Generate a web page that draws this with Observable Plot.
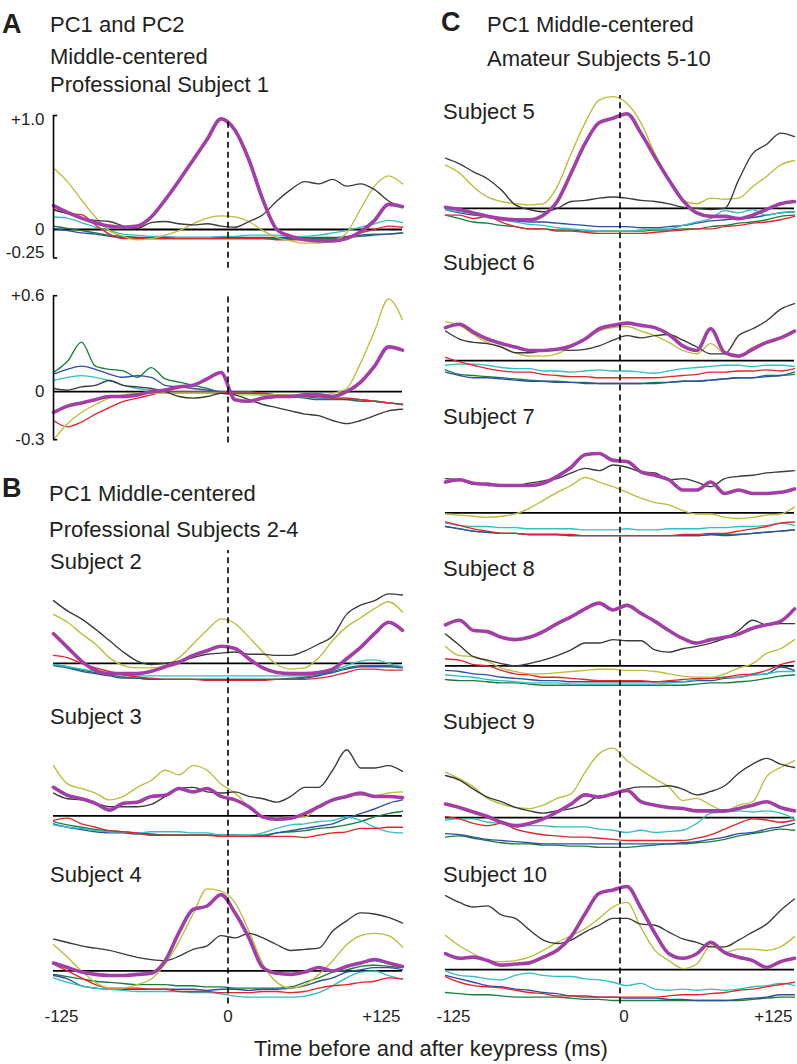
<!DOCTYPE html>
<html><head><meta charset="utf-8">
<script src="https://cdn.jsdelivr.net/npm/d3@7"></script>
<script src="https://cdn.jsdelivr.net/npm/@observablehq/plot@0.6"></script>
<style>
body{margin:0;background:#fff;}
#fig{position:relative;width:797px;height:1064px;overflow:hidden;font-family:"Liberation Sans",Arial,Helvetica,sans-serif;color:#231f20;background:#fff;}
.t{position:absolute;white-space:nowrap;}
.p{position:absolute;}
</style></head><body><div id="fig"></div>
<script>
// ---------- DATA (values x 0.01) ----------
const times = [-125,-115,-105,-95,-85,-75,-65,-55,-45,-35,-25,-15,-5,5,15,25,35,45,55,65,75,85,95,105,115,125];
const seriesOrder = ["green","blue","cyan","red","yellow","black","purple"];
const seriesColors = {green:"#16803c", blue:"#2f4ea6", cyan:"#2fbfc4", red:"#e3262b", yellow:"#bdbd3a", black:"#3a3a3a", purple:"#a23ea6"};

const subj1PC1 = {
  purple:[21,15,10,6,3,2,3,11,26,43,61,79,97,87,61,26,0,-6,-9,-10,-10,-8,-2,8,22,20],
  black:[17,14,10,8,7,3,1,6,7,5,4,5,3,2,7,13,25,35,42,40,44,38,40,35,25,20],
  yellow:[54,42,26,11,-1,-6,-9,-8,-5,-1,5,10,12,11,7,-1,-7,-10,-12,-12,-10,-3,18,38,47,40],
  cyan:[11,10,6,2,-1,-4,-5,-6,-6,-7,-7,-7,-6,-6,-5,-5,-5,-6,-6,-5,-3,-1,2,5,8,6],
  red:[18,14,13,4,-4,-8,-8,-8,-8,-8,-8,-8,-8,-8,-8,-8,-9,-9,-9,-9,-9,-7,-3,0,3,2],
  green:[3,1,-1,-3,-5,-6,-7,-8,-8,-8,-8,-8,-8,-8,-8,-8,-8,-8,-8,-8,-8,-7,-6,-5,-4,-3],
  blue:[1,-1,-3,-4,-6,-7,-7,-7,-7,-7,-7,-7,-7,-7,-7,-7,-7,-7,-7,-7,-7,-6,-5,-4,-4,-3]
};
const subj1PC2 = {
  green:[12,19,31,16,14,13,9,15,8,6,4,2,0,0,0,-1,-2,-3,-4,-5,-5,-5,-6,-6,-7,-8],
  blue:[11,14,16,14,11,9,10,9,4,3,2,1,0,0,-1,-2,-3,-3,-3,-4,-4,-5,-5,-6,-7,-8],
  cyan:[7,9,10,9,7,4,2,1,0,0,0,0,0,-1,-1,-2,-2,-3,-3,-3,-4,-4,-5,-6,-7,-8],
  black:[2,1,3,4,7,4,3,2,0,-3,-4,-3,-1,-2,-5,-8,-10,-12,-14,-15,-18,-20,-18,-15,-12,-11],
  purple:[-13,-9,-7,-5,-3,-3,-2,0,1,3,4,8,12,-5,-6,-4,-3,-3,-2,-2,-3,0,6,16,28,26],
  yellow:[-30,-20,-13,-8,-4,-2,-1,-1,-1,-1,-1,-1,-1,-2,-2,-2,-2,-2,-2,-2,-1,2,18,38,58,45],
  red:[-18,-22,-19,-14,-10,-6,-4,-2,0,0,0,0,0,-1,-1,-1,-2,-2,-3,-3,-4,-4,-5,-6,-7,-8]
};
const subj2 = {
  black:[55,46,39,30,20,10,2,-1,0,2,5,8,9,10,8,8,7,7,11,17,24,43,51,55,61,60],
  yellow:[43,36,26,17,5,-2,-4,-4,-2,5,17,29,39,35,23,10,-1,-5,-4,5,20,32,40,48,54,45],
  purple:[26,14,2,-6,-9,-9,-9,-7,-3,1,7,11,15,13,4,-4,-8,-9,-9,-8,-5,4,14,26,36,29],
  red:[7,5,0,-4,-7,-10,-12,-13,-14,-14,-14,-15,-15,-15,-15,-15,-14,-14,-14,-13,-11,-8,-5,-5,-6,-6],
  cyan:[-1,-3,-5,-7,-9,-10,-11,-11,-11,-11,-11,-11,-11,-11,-11,-11,-11,-11,-11,-9,-6,-2,2,3,0,-3],
  green:[-1,-3,-6,-8,-10,-12,-13,-14,-14,-14,-14,-14,-14,-14,-14,-14,-14,-13,-12,-10,-7,-4,-2,-2,-2,-3],
  blue:[-2,-4,-7,-9,-11,-13,-13,-14,-14,-14,-14,-14,-14,-14,-14,-14,-14,-14,-13,-11,-8,-5,-3,-3,-3,-4]
};
const subj3 = {
  black:[20,15,14,11,8,8,8,10,17,24,25,21,20,21,17,15,12,17,25,25,40,58,42,42,44,39],
  yellow:[44,28,24,20,14,17,25,31,40,36,44,40,28,20,8,-1,-2,-1,-1,8,14,17,18,18,20,21],
  purple:[25,18,15,11,5,11,12,17,18,24,21,24,17,14,8,-1,-3,-2,2,8,14,17,20,17,17,16],
  red:[-4,-2,-7,-10,-13,-14,-15,-17,-17,-17,-17,-17,-18,-18,-18,-18,-18,-18,-19,-17,-15,-14,-11,-11,-10,-10],
  cyan:[-8,-10,-11,-13,-14,-14,-15,-14,-14,-14,-15,-15,-17,-17,-17,-15,-11,-8,-7,-5,-4,-1,-4,-10,-14,-15],
  blue:[-7,-10,-12,-14,-15,-15,-16,-16,-17,-17,-17,-17,-17,-17,-18,-18,-15,-13,-11,-9,-7,-2,2,6,11,14],
  green:[-5,-8,-10,-12,-13,-14,-15,-16,-17,-17,-17,-17,-17,-17,-17,-17,-15,-14,-13,-11,-10,-8,-5,-1,2,4]
};
const subj4 = {
  black:[28,25,22,20,18,15,12,10,9,13,19,22,31,29,33,29,23,18,19,20,35,44,51,50,47,42],
  yellow:[23,12,0,-10,-15,-15,-12,-7,6,26,50,72,70,60,35,6,-10,-15,-12,-3,9,23,31,33,31,21],
  purple:[7,3,-1,-3,-4,-4,-3,-2,9,34,54,57,67,51,29,3,-2,-3,-1,3,0,4,7,10,7,4],
  red:[6,0,-6,-12,-15,-15,-15,-16,-16,-18,-18,-18,-19,-19,-19,-18,-18,-19,-18,-15,-13,-12,-10,-9,-6,-7],
  blue:[-4,-7,-13,-15,-16,-16,-16,-16,-16,-16,-16,-17,-16,-16,-17,-16,-16,-15,-13,-9,-6,-1,1,3,3,1],
  green:[-3,-5,-7,-9,-10,-11,-12,-12,-12,-13,-13,-14,-14,-15,-15,-15,-15,-14,-10,-6,-1,1,4,5,4,3],
  cyan:[-6,-10,-13,-15,-16,-17,-18,-18,-18,-18,-19,-19,-20,-22,-23,-23,-23,-23,-22,-19,-13,-6,-1,0,-4,-7]
};
const subj5 = {
  black:[44,39,32,26,16,3,-1,-3,0,6,7,9,10,9,7,6,4,1,0,-1,0,25,48,56,66,63],
  yellow:[38,31,19,10,6,4,3,4,19,48,75,95,98,92,75,48,25,7,4,9,8,9,19,28,38,42],
  purple:[1,-1,-4,-7,-9,-10,-10,-6,6,31,57,75,79,83,66,45,25,7,-4,-7,-7,-9,-6,-1,4,6],
  blue:[-1,-4,-6,-7,-9,-11,-12,-12,-13,-14,-15,-16,-16,-16,-17,-17,-16,-15,-13,-11,-10,-9,-8,-6,-4,-3],
  cyan:[-1,-3,-4,-8,-10,-12,-14,-15,-17,-18,-19,-20,-20,-20,-19,-18,-18,-15,-12,-9,-2,-4,-1,-6,-4,-3],
  red:[-6,-6,-9,-7,-12,-16,-18,-18,-20,-20,-21,-22,-22,-22,-22,-21,-20,-19,-18,-18,-16,-15,-13,-12,-10,-7],
  green:[-6,-9,-12,-13,-15,-16,-18,-18,-19,-19,-20,-20,-20,-20,-20,-19,-19,-18,-18,-16,-15,-13,-12,-10,-7,-6]
};
const subj6 = {
  black:[26,19,16,15,12,7,7,9,10,9,10,13,18,22,20,22,23,18,12,6,6,22,28,35,45,50],
  yellow:[34,31,23,16,12,7,4,4,6,12,19,26,29,30,26,22,16,9,6,15,6,4,12,16,20,26],
  purple:[29,32,25,19,15,12,9,9,10,13,19,28,31,33,31,29,23,13,9,28,7,4,10,16,20,26],
  red:[3,-1,-4,-7,-9,-10,-10,-12,-13,-14,-14,-15,-15,-15,-15,-15,-14,-13,-12,-10,-10,-9,-9,-8,-9,-7],
  cyan:[-4,-3,-3,-4,-6,-7,-7,-9,-9,-10,-9,-8,-9,-9,-10,-11,-9,-7,-6,-5,-4,-4,-5,-4,-4,-5],
  blue:[-10,-13,-15,-15,-16,-17,-18,-18,-19,-19,-20,-20,-20,-20,-20,-20,-19,-18,-18,-17,-16,-15,-15,-14,-13,-10],
  green:[-8,-12,-13,-14,-15,-16,-17,-18,-18,-19,-19,-20,-20,-20,-20,-19,-19,-18,-18,-17,-16,-15,-15,-13,-13,-12]
};
const subj7 = {
  black:[30,29,25,26,24,24,26,28,30,35,39,37,42,40,36,35,29,30,27,23,30,32,33,35,36,37],
  purple:[27,29,26,25,24,24,24,26,32,40,51,52,46,45,36,33,29,20,20,27,17,20,17,17,18,21],
  yellow:[-1,-2,-3,-4,-3,-1,4,11,18,24,31,27,23,18,13,9,7,2,-1,-1,-4,-5,-4,-2,-1,5],
  cyan:[-9,-11,-12,-12,-13,-13,-14,-14,-14,-14,-15,-15,-15,-14,-15,-15,-14,-14,-14,-13,-13,-12,-12,-11,-9,-11],
  red:[-8,-11,-14,-16,-18,-18,-19,-19,-19,-19,-20,-20,-20,-20,-20,-20,-20,-19,-19,-18,-18,-16,-14,-12,-9,-8],
  blue:[-12,-14,-16,-17,-18,-18,-19,-19,-19,-20,-20,-20,-20,-20,-20,-20,-20,-20,-20,-19,-20,-19,-18,-17,-16,-15],
  green:[-12,-14,-16,-17,-18,-18,-19,-19,-19,-20,-20,-20,-20,-20,-20,-20,-20,-20,-20,-19,-19,-19,-18,-17,-16,-15]
};
const subj8 = {
  purple:[36,40,31,30,25,23,25,30,37,43,50,55,49,53,46,39,31,24,20,23,25,28,33,36,39,50],
  black:[28,18,8,5,2,0,2,5,9,14,20,20,23,22,22,14,12,15,17,20,24,31,40,36,37,37],
  yellow:[17,9,8,4,-2,-5,-7,-7,-6,-5,-4,-3,-3,-4,-4,-5,-7,-9,-10,-10,-7,-2,2,11,15,23],
  red:[6,5,1,0,-4,-7,-8,-10,-10,-11,-12,-13,-13,-13,-13,-14,-13,-12,-11,-11,-10,-8,-7,-4,1,4],
  blue:[-4,-5,-7,-8,-10,-11,-12,-13,-13,-14,-14,-14,-14,-14,-14,-14,-14,-14,-13,-13,-11,-10,-8,-7,-1,-4],
  cyan:[-8,-9,-10,-12,-13,-14,-15,-15,-15,-16,-16,-16,-16,-16,-16,-16,-15,-14,-12,-11,-10,-10,-8,-7,-5,-5],
  green:[-12,-13,-13,-14,-15,-15,-16,-17,-17,-17,-17,-17,-17,-17,-17,-17,-17,-17,-16,-15,-15,-14,-13,-11,-9,-8]
};
const subj9 = {
  yellow:[40,34,27,17,12,9,8,11,17,21,40,56,61,50,42,34,27,15,17,11,6,11,14,36,44,50],
  black:[37,33,25,18,14,9,6,4,6,8,12,19,20,25,27,27,28,25,20,23,28,39,47,52,47,44],
  purple:[12,9,5,1,-4,-7,-5,-1,5,12,20,18,21,24,14,11,9,8,6,6,6,8,11,14,9,6],
  cyan:[-2,-1,-1,-4,-5,-8,-7,-7,-8,-8,-8,-10,-11,-13,-11,-13,-12,-11,-5,4,5,6,5,6,4,-1],
  red:[1,-1,-5,-7,-5,-10,-13,-15,-16,-17,-17,-18,-19,-20,-20,-20,-20,-20,-18,-15,-10,-5,-1,-2,-4,-2],
  blue:[-14,-15,-17,-19,-20,-21,-22,-23,-23,-23,-23,-23,-23,-23,-23,-23,-23,-22,-21,-19,-17,-14,-13,-10,-8,-5],
  green:[-17,-16,-18,-20,-22,-23,-23,-24,-24,-25,-25,-26,-26,-26,-25,-24,-23,-23,-22,-21,-19,-16,-14,-12,-10,-11]
};
const subj10 = {
  black:[65,59,55,56,48,45,35,26,23,26,33,39,45,45,40,39,33,27,24,20,20,26,33,40,52,62],
  yellow:[30,21,14,8,7,8,11,17,24,30,36,45,55,59,37,17,8,1,5,21,15,18,18,17,20,29],
  purple:[14,10,11,8,4,5,6,11,17,29,49,67,70,73,54,32,14,10,14,24,15,11,8,2,7,10],
  cyan:[-1,-5,-6,-8,-9,-5,-3,-5,-6,-6,-8,-9,-11,-14,-12,-17,-18,-17,-18,-17,-18,-17,-15,-14,-12,-14],
  red:[-6,-11,-14,-15,-16,-18,-20,-21,-23,-23,-24,-24,-24,-24,-24,-24,-23,-22,-22,-21,-20,-18,-17,-15,-13,-11],
  blue:[-5,-8,-11,-14,-15,-17,-18,-20,-21,-23,-23,-24,-24,-25,-25,-25,-26,-26,-27,-27,-27,-26,-25,-24,-22,-22],
  green:[-20,-21,-22,-22,-23,-24,-24,-24,-24,-25,-26,-26,-27,-27,-27,-27,-27,-27,-27,-27,-27,-27,-26,-25,-24,-24]
};

const xTickValues = [-125, 0, 125];
const xTickLabels = ["-125", "0", "+125"];
const pc1Ticks = [-0.25, 0, 1.0], pc1TickLabels = ["-0.25", "0", "+1.0"];
const pc2Ticks = [-0.3, 0, 0.6], pc2TickLabels = ["-0.3", "0", "+0.6"];

const headings = [
  {text:"A", x:2, cy:24, bold:true},
  {text:"PC1 and PC2", x:50, cy:25},
  {text:"Middle-centered", x:50, cy:57},
  {text:"Professional Subject 1", x:50, cy:85},
  {text:"B", x:2, cy:488, bold:true},
  {text:"PC1 Middle-centered", x:49, cy:494},
  {text:"Professional Subjects 2-4", x:49, cy:530},
  {text:"C", x:441, cy:22, bold:true},
  {text:"PC1 Middle-centered", x:487, cy:25},
  {text:"Amateur Subjects 5-10", x:487, cy:59}
];
const subjectLabels = [
  {text:"Subject 2", x:50, cy:562}, {text:"Subject 3", x:50, cy:717}, {text:"Subject 4", x:50, cy:875},
  {text:"Subject 5", x:443, cy:112}, {text:"Subject 6", x:443, cy:263}, {text:"Subject 7", x:443, cy:417},
  {text:"Subject 8", x:443, cy:569}, {text:"Subject 9", x:443, cy:722}, {text:"Subject 10", x:443, cy:875}
];
const xTitle = "Time before and after keypress (ms)";

// ---------- LAYOUT ----------
const cols = [{left:0, width:410, ml:53, mr:8}, {left:392, width:405, ml:53, mr:3}];
const panels = [
  {data:subj1PC1, col:0, zero:229, k:114, domain:[-0.34,1.0], dash:[-0.34,0.95], ticks:pc1Ticks, tickLabels:pc1TickLabels, labelDy:[-5,0,4]},
  {data:subj1PC2, col:0, zero:391, k:160, domain:[-0.32,0.62], dash:[-0.32,0.61], ticks:pc2Ticks, tickLabels:pc2TickLabels, labelDy:[0,0,0]},
  {data:subj2, col:0, zero:663, k:114, domain:[-0.53,0.99]},
  {data:subj3, col:0, zero:815.7, k:114, domain:[-0.53,0.81]},
  {data:subj4, col:0, zero:970, k:114, domain:[-0.29,0.82], xAxis:true},
  {data:subj5, col:1, zero:208, k:114, domain:[-0.53,0.99]},
  {data:subj6, col:1, zero:360, k:114, domain:[-0.53,0.80]},
  {data:subj7, col:1, zero:512.7, k:114, domain:[-0.53,0.81]},
  {data:subj8, col:1, zero:665.7, k:114, domain:[-0.53,0.81]},
  {data:subj9, col:1, zero:817.3, k:114, domain:[-0.53,0.80]},
  {data:subj10, col:1, zero:969.3, k:114, domain:[-0.30,0.80], xAxis:true}
];

const fig = document.getElementById("fig");
const FONT = '"Liberation Sans", Arial, Helvetica, sans-serif';
const INK = "#231f20";

for (const p of panels) {
  const c = cols[p.col];
  const [lo, hi] = p.domain;
  const plotH = (hi - lo) * p.k;
  const mb = p.xAxis ? 36 : 0;
  const top = p.zero - hi * p.k;
  const rows = [];
  for (const s of seriesOrder) {
    const arr = p.data[s];
    times.forEach((t, i) => rows.push({t, v: arr[i] / 100, s}));
  }
  const marks = [
    Plot.ruleY([0], {x1: -125, x2: 125, stroke: "#000", strokeWidth: 1.8})
  ];
  for (const s of seriesOrder) {
    marks.push(Plot.line(rows.filter(r => r.s === s), {
      x: "t", y: "v", curve: "monotone-x",
      stroke: seriesColors[s], strokeWidth: s === "purple" ? 3.6 : 1.35,
      strokeLinejoin: "round", strokeLinecap: "round"
    }));
  }
  const dash = p.dash || p.domain;
  marks.push(Plot.ruleX([0], {y1: dash[0], y2: dash[1], stroke: "#000", strokeWidth: 1.6, strokeDasharray: "6,4"}));
  if (p.ticks) {
    const ends = [p.ticks[0], p.ticks[p.ticks.length - 1]];
    marks.push(Plot.ruleX([-125], {y1: ends[0], y2: ends[1], stroke: "#000", strokeWidth: 1.6}));
    marks.push(Plot.ruleY(ends, {x1: -125, x2: -122, stroke: "#000", strokeWidth: 1.6}));
    p.ticks.forEach((tv, i) => {
      marks.push(Plot.text([tv], {y: d => d, frameAnchor: "left", dx: -9, dy: p.labelDy[i], textAnchor: "end",
        text: () => p.tickLabels[i], fontSize: 17, fill: INK}));
    });
  }
  if (p.xAxis) {
    const lbl = (d) => xTickLabels[xTickValues.indexOf(d)];
    marks.push(Plot.text([xTickValues[0]], {x: d => d, frameAnchor: "bottom", dy: 18, dx: 8, text: lbl, fontSize: 17, fill: INK}));
    marks.push(Plot.text([xTickValues[1]], {x: d => d, frameAnchor: "bottom", dy: 18, dx: p.col ? 4 : 0, text: lbl, fontSize: 17, fill: INK}));
    marks.push(Plot.text([xTickValues[2]], {x: d => d, frameAnchor: "bottom", dy: 18, dx: -2, textAnchor: "end", text: lbl, fontSize: 17, fill: INK}));
  }
  const svg = Plot.plot({
    width: c.width, height: plotH + mb,
    marginLeft: c.ml, marginRight: c.mr, marginTop: 0, marginBottom: mb,
    x: {domain: [-125, 125], axis: null},
    y: {domain: [lo, hi], axis: null},
    style: `background: transparent; overflow: visible; font-family: ${FONT};`,
    marks
  });
  const wrap = document.createElement("div");
  wrap.className = "p";
  wrap.style.left = c.left + "px";
  wrap.style.top = top + "px";
  wrap.appendChild(svg);
  fig.appendChild(wrap);
}

function addText(str, x, cy, size, bold, center) {
  const d = document.createElement("div");
  d.className = "t";
  d.textContent = str;
  d.style.left = x + "px";
  d.style.top = (cy - size * 0.6) + "px";
  d.style.fontSize = size + "px";
  d.style.lineHeight = (size * 1.2) + "px";
  if (bold) d.style.fontWeight = "bold";
  if (center) d.style.transform = "translateX(-50%)";
  fig.appendChild(d);
}
for (const h of headings) addText(h.text, h.x, h.cy, h.bold ? 27 : 22, h.bold, false);
for (const s of subjectLabels) addText(s.text, s.x, s.cy, 22, false, false);
addText(xTitle, 431, 1049, 22, false, true);
</script>
</body></html>
